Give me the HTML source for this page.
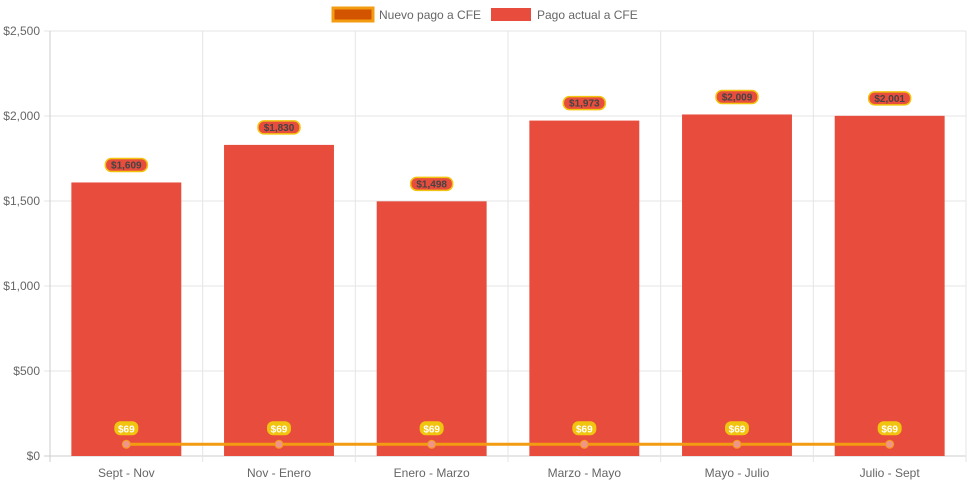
<!DOCTYPE html>
<html><head><meta charset="utf-8"><style>
body{margin:0;background:#fff;font-family:"Liberation Sans",Arial,sans-serif}
</style></head><body>
<svg id="c" width="971" height="485" font-family="Liberation Sans, Arial, sans-serif">
<g>
<g><rect x="333" y="8" width="40" height="13" fill="#d35400" stroke="#f39c12" stroke-width="3"/><text x="379" y="19" font-size="12" fill="#666">Nuevo pago a CFE</text></g>
<g><rect x="491" y="8" width="40" height="13" fill="#e74c3c"/><text x="537" y="19" font-size="12" fill="#666">Pago actual a CFE</text></g>
</g>
<g id="grid"></g><g id="bars"></g><g id="line"></g><g id="labels"></g>
</svg>
<script>
const categories=["Sept - Nov","Nov - Enero","Enero - Marzo","Marzo - Mayo","Mayo - Julio","Julio - Sept"];
const actual=[1609,1830,1498,1973,2009,2001];
const nuevo=[69,69,69,69,69,69];
const yTicks=[0,500,1000,1500,2000,2500];
const yTickLabels=["$0","$500","$1,000","$1,500","$2,000","$2,500"];
const NS="http://www.w3.org/2000/svg";
const L=50,R=966,T=31,B=456,yMax=2500;
const bw=(R-L)/categories.length;
const y=v=>B-v/yMax*(B-T);
const xc=i=>L+bw*(i+0.5);
function mk(p,t,a){const e=document.createElementNS(NS,t);for(const k in a)e.setAttribute(k,a[k]);p.appendChild(e);return e;}
const g=document.getElementById('grid'),gb=document.getElementById('bars'),gl=document.getElementById('line'),lb=document.getElementById('labels');
yTicks.forEach((v,i)=>{
 const ln=mk(g,'line',{x1:L-6,x2:R,y1:y(v),y2:y(v),stroke:i==0?'#ccc':'#e5e5e5'});
 
 
 const t=mk(g,'text',{x:L-10,y:y(v)+4,'text-anchor':'end','font-size':12,fill:'#666'});t.textContent=yTickLabels[i];
 
 
});
for(let i=0;i<=categories.length;i++){
 const ln=mk(g,'line',{x1:L+bw*i,x2:L+bw*i,y1:T,y2:B+6,stroke:i==0?'#ccc':'#e5e5e5'});
 
 
}
categories.forEach((c,i)=>{
 const t=mk(g,'text',{x:xc(i),y:B+21,'text-anchor':'middle','font-size':12,fill:'#666'});t.textContent=c;
 
 
 const w=bw*0.72;
 const r=mk(gb,'rect',{x:xc(i)-w/2,y:y(actual[i]),width:w,height:B-y(actual[i]),fill:'#e74c3c'});
 
 
 const s='$'+actual[i].toLocaleString('en-US');
 const lg=mk(lb,'g',{});
 
 
 const lw=s.length*6+6;
 mk(lg,'rect',{x:xc(i)-lw/2,y:y(actual[i])-24,width:lw,height:13,rx:6,fill:'#e74c3c',stroke:'#f1c40f','stroke-width':1.5});
 const tt=mk(lg,'text',{x:xc(i),y:y(actual[i])-14,'text-anchor':'middle','font-size':10,'font-weight':'bold',fill:'#444'});tt.textContent=s;
});
const pl=mk(gl,'polyline',{points:nuevo.map((v,i)=>xc(i)+','+y(v)).join(' '),fill:'none',stroke:'#f39c12','stroke-width':3});


nuevo.forEach((v,i)=>{
 const c=mk(gl,'circle',{cx:xc(i),cy:y(v),r:4,fill:'#f1948a',stroke:'#f39c12','stroke-width':1});
 
 
 const s='$'+v;
 const lg=mk(lb,'g',{});
 
 
 mk(lg,'rect',{x:xc(i)-12,y:y(v)-23,width:24,height:14,rx:6,fill:'#f1c40f'});
 const tt=mk(lg,'text',{x:xc(i),y:y(v)-12,'text-anchor':'middle','font-size':10,'font-weight':'bold',fill:'#fff'});tt.textContent=s;
});
</script>
</body></html>
